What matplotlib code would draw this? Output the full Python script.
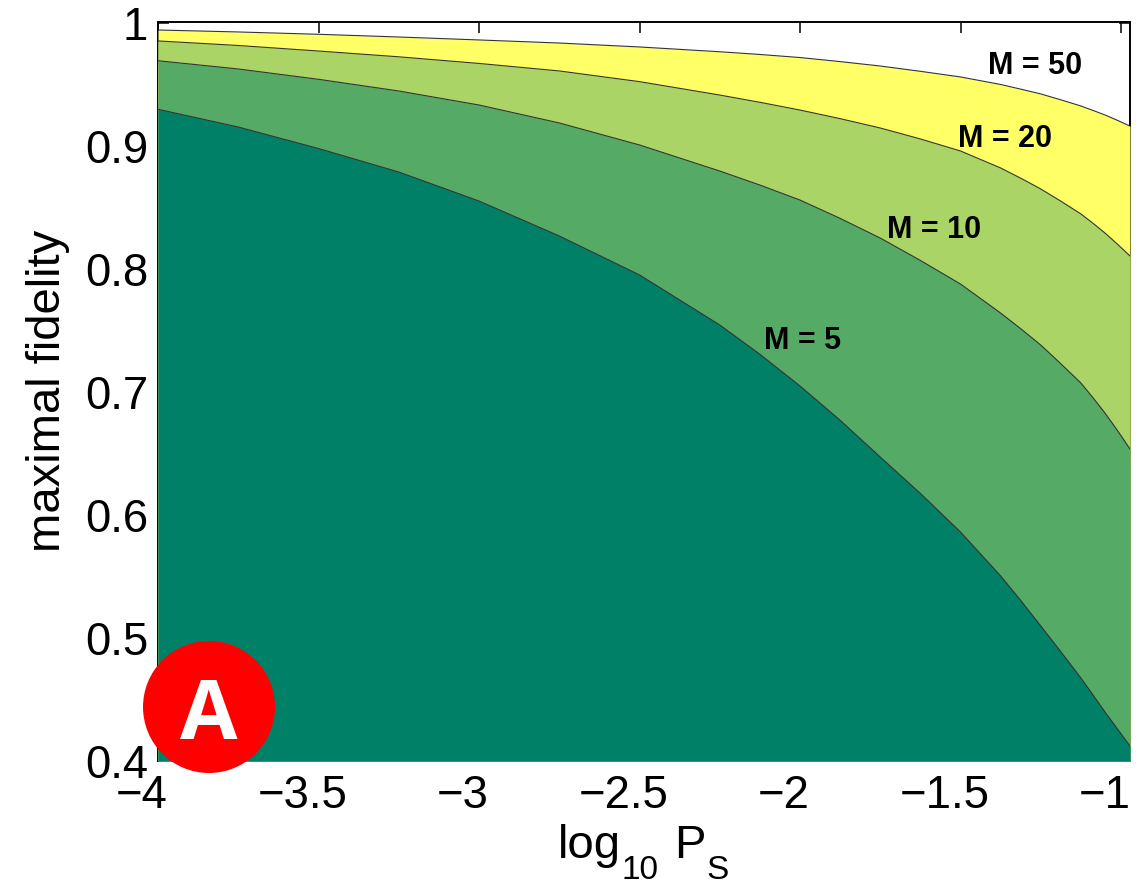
import matplotlib
matplotlib.use("Agg")
import matplotlib.pyplot as plt
import matplotlib.transforms as mtrans
from matplotlib.patches import Circle

plt.rcParams['font.family'] = ['Liberation Sans', 'DejaVu Sans']

log_ps = [-4, -3.75, -3.5, -3.25, -3, -2.75, -2.5, -2.25, -2.125, -2, -1.875, -1.75, -1.625, -1.5,
          -1.375, -1.3125, -1.25, -1.1875, -1.125, -1.0875, -1.05, -1.011, -0.972]
m5 = [.9300, .9156, .8981, .8790, .8554, .8270, .7953, .7546, .7308, .7050, .6771, .6472, .6176, .5862,
      .5505, .5306, .5098, .4889, .4675, .4538, .4399, .4260, .4122]
m10 = [.9695, .9628, .9544, .9449, .9335, .9189, .9010, .8798, .8684, .8562, .8413, .8253, .8071, .7879,
       .7643, .7516, .7383, .7231, .7074, .6955, .6830, .6688, .6537]
m20 = [.9856, .9819, .9774, .9727, .9673, .9612, .9525, .9416, .9357, .9294, .9224, .9148, .9059, .8961,
       .8823, .8740, .8652, .8553, .8449, .8374, .8294, .8203, .8107]
m50 = [.9945, .9929, .9910, .9888, .9864, .9839, .9807, .9768, .9746, .9721, .9688, .9652, .9609, .9563,
       .9502, .9464, .9425, .9377, .9327, .9291, .9254, .9210, .9164]

curves = [m50, m20, m10, m5]
colors = ['#ffff66', '#aad566', '#55aa66', '#008066']
labels = ['M = 50', 'M = 20', 'M = 10', 'M = 5']
label_x = [-1.268, -1.361, -1.583, -1.993]
label_y = [.9655, .9061, .8321, .7418]

xticks = [-4, -3.5, -3, -2.5, -2, -1.5, -1]
xtick_labels = ['\u22124', '\u22123.5', '\u22123', '\u22122.5', '\u22122', '\u22121.5', '\u22121']
yticks = [.4, .5, .6, .7, .8, .9, 1]
ytick_labels = ['0.4', '0.5', '0.6', '0.7', '0.8', '0.9', '1']

fig = plt.figure(figsize=(11.48, 8.86), dpi=100)
ax = fig.add_axes([158 / 1148, 1 - 761 / 886, 972 / 1148, 739 / 886])

for c, col in zip(curves, colors):
    ax.fill_between(log_ps, 0.4, c, color=col, lw=0, zorder=3)
    ax.plot(log_ps, c, color='#333333', lw=0.8, zorder=3.2)

ax.set_xlim(-4, -0.972)
ax.set_ylim(0.4, 1.001)
ax.set_xticks(xticks)
ax.set_xticklabels(xtick_labels)
ax.set_yticks(yticks)
ax.set_yticklabels(ytick_labels)
ax.tick_params(direction='in', length=8, width=1.1, top=True, right=True, labelsize=32.8, color='black')
ax.tick_params(axis='x', pad=9)
ax.tick_params(axis='y', pad=7)
for s in ax.spines.values():
    s.set_linewidth(1.4)

# the x labels sit left of their ticks in the original
shift = mtrans.ScaledTranslation(-16 / 100, 0, fig.dpi_scale_trans)
for lab in ax.get_xticklabels():
    lab.set_transform(lab.get_transform() + shift)

for t, x, y in zip(labels, label_x, label_y):
    ax.text(x, y, t, fontsize=22, fontweight='bold', ha='center', va='center', color='black', zorder=5)

# x label in pieces, the subscripts drop further than mathtext lets them
fig.text(558 / 1148, 1 - 858 / 886, 'log', fontsize=34)
fig.text(622 / 1148, 1 - 879 / 886, '10', fontsize=24)
fig.text(674 / 1148, 1 - 858 / 886, 'P', fontsize=34)
fig.text(706 / 1148, 1 - 879 / 886, 'S', fontsize=24)
fig.text(60 / 1148, 1 - 391 / 886, 'maximal fidelity', fontsize=34, rotation=90, ha='center', va='baseline', rotation_mode='anchor')

badge = Circle((209, 886 - 707), 66, transform=None, facecolor='#ff0000', edgecolor='none', zorder=10)
fig.add_artist(badge)
fig.text(209 / 1148, 1 - 739 / 886, 'A', family='Open Sans', fontweight='bold', fontsize=60, color='white', ha='center', va='baseline', zorder=11)

fig.savefig('out.png', dpi=100)
